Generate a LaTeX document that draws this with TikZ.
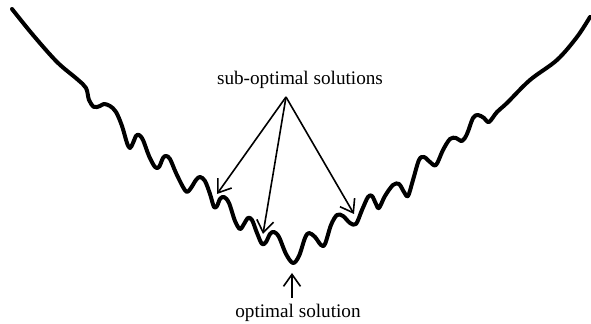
\documentclass[tikz,border=0pt]{standalone}
\usepackage{fontspec}
\setmainfont{Liberation Serif}
\usepackage{tikz}
\usetikzlibrary{arrows.meta}

\begin{document}
\begin{tikzpicture}[x=0.5pt,y=-0.5pt,>={Straight Barb[length=6pt,width=8.5pt,line width=0.8pt]},
  font=\fontsize{9.6}{11}\selectfont,
  landscape/.style={line width=2pt,line cap=round,line join=round},
  pointer/.style={->,line width=0.8pt}]
\useasboundingbox (0,0) rectangle (591,324);
% the wavy cost landscape
\draw[landscape] plot[smooth,tension=0.55] coordinates {
  (12,9) (33,35) (57,62) (77,79) (86,88) (89,100) (94,107) (100,106) (104,104)
  (110,106) (116,112) (122,126) (127,143) (130,148) (133,143) (136,136)
  (139,135) (143,140) (149,156) (155,167) (159,167) (163,158) (166,156)
  (170,159) (176,173) (183,187) (187,192) (191,188) (196,180) (200,177)
  (205,181) (210,194) (214,207) (217,206) (220,199) (224,197) (229,203)
  (235,221) (240,229) (244,224) (248,218) (252,220) (257,233) (262,244)
  (266,242) (270,234) (274,232) (279,237) (286,254) (293,263) (299,256)
  (305,238) (309,233) (315,237) (321,245) (325,244) (331,225) (337,215)
  (343,216) (350,223) (356,224) (362,210) (368,197) (372,196) (376,204)
  (379,208) (385,196) (393,185) (399,184) (404,192) (408,196) (413,180)
  (419,160) (424,157) (430,162) (436,165) (443,150) (450,139) (456,138)
  (462,141) (467,134) (473,118) (478,115) (484,118) (489,122) (497,112)
  (507,103) (530,80) (557,60) (577,37) (590,17)};
% targets of the arrows
\coordinate (m1) at (217,194);
\coordinate (m2) at (263,234);
\coordinate (m3) at (354,214);
\coordinate (gmin) at (292,273);
\node (sub) at (300,80) {sub-optimal solutions};
\coordinate (fork) at (286,97);
\draw[pointer] (fork) -- (m1);
\draw[pointer] (fork) -- (m2);
\draw[pointer] (fork) -- (m3);
\node[inner sep=1pt] (opt) at (298,313) {optimal solution};
\draw[pointer] (opt.north -| gmin) ++(0,-4) -- (gmin);
\end{tikzpicture}
\end{document}
